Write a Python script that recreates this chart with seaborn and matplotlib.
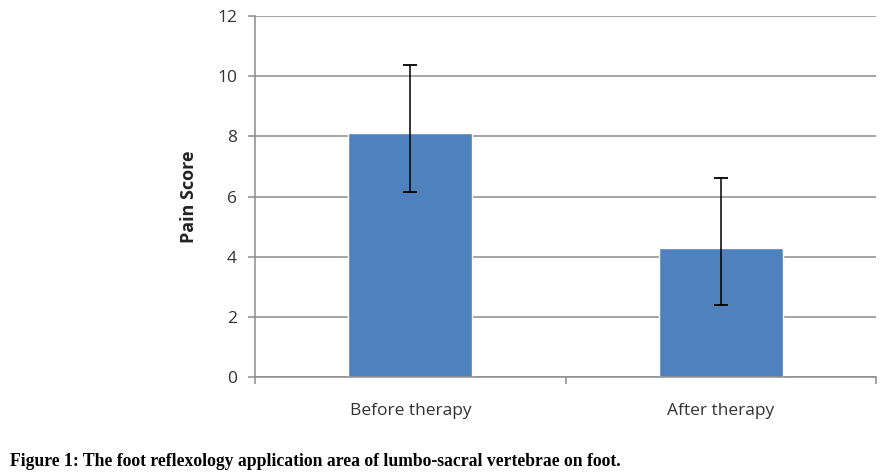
import matplotlib
matplotlib.use("Agg")
from matplotlib import pyplot as plt
import numpy as np
import pandas as pd
import seaborn as sns

# values
groups = ["Before therapy", "After therapy"]
pain_score = [8.11, 4.28]
err_low = [1.97, 1.89]
err_high = [2.27, 2.34]
y_ticks = [0, 2, 4, 6, 8, 10, 12]
caption = "Figure 1: The foot reflexology application area of lumbo-sacral vertebrae on foot."

df = pd.DataFrame({"group": groups, "score": pain_score})

sns.set_style("white")
plt.rcParams["font.family"] = ["Open Sans", "DejaVu Sans"]

fig = plt.figure(figsize=(8.95, 4.76), dpi=100)
ax = fig.add_axes([0.285, 0.208, 0.694, 0.758])

sns.barplot(data=df, x="group", y="score", color="#4F81BD", saturation=1,
            width=0.4, errorbar=None, ax=ax, zorder=2)

# error bars (asymmetric)
ax.errorbar(np.arange(len(groups)), pain_score, yerr=[err_low, err_high],
            fmt="none", ecolor="black", elinewidth=1.1, capsize=5,
            capthick=1.3, zorder=3)

ax.set_ylim(0, 12)
ax.set_xlim(-0.5, 1.5)
ax.set_yticks(y_ticks)
ax.yaxis.grid(True, color="#8c8c8c", linewidth=1.1, zorder=0)
ax.set_axisbelow(True)

for side in ["top", "right"]:
    ax.spines[side].set_visible(False)
for side in ["left", "bottom"]:
    ax.spines[side].set_color("#8c8c8c")
    ax.spines[side].set_linewidth(1.1)

ax.tick_params(axis="y", length=5, width=1.1, color="#8c8c8c", pad=8,
               labelsize=12.5, labelcolor="#333333", left=True)
ax.tick_params(axis="x", which="major", length=0, pad=19,
               labelsize=12.5, labelcolor="#333333")
ax.set_xticks([-0.5, 0.5, 1.5], minor=True)
ax.tick_params(axis="x", which="minor", length=5, width=1.1,
               color="#8c8c8c", bottom=True)

ax.set_xlabel("")
ax.set_ylabel("Pain Score", fontsize=13, fontweight="bold",
              color="#222222", labelpad=14)

fig.text(0.011, 0.022, caption, fontsize=12.7, fontweight="bold",
         family=["Liberation Serif", "DejaVu Serif"], color="black")

plt.savefig("out.png", dpi=100)
plt.close()
